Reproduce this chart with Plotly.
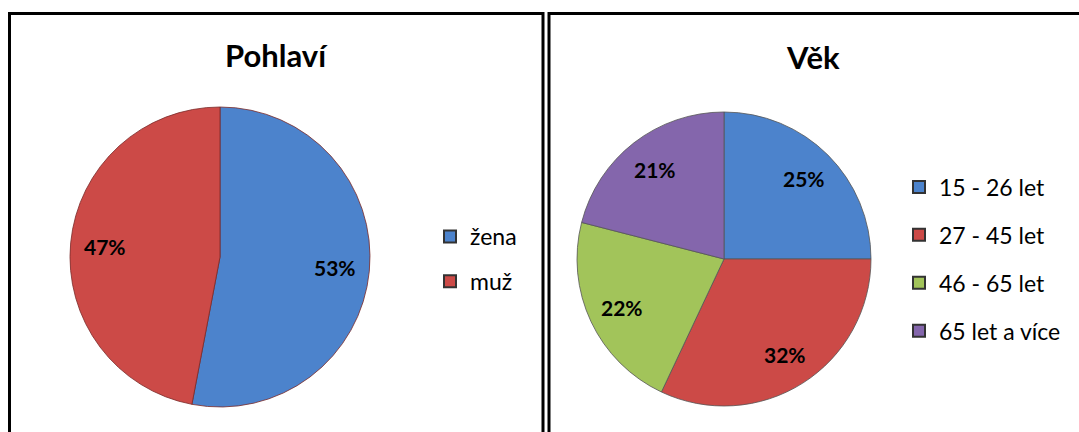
import math
import plotly.graph_objects as go

W, H = 1079, 432

sex_labels = ["žena", "muž"]
sex_values = [53, 47]
sex_colors = ["#4C83CC", "#CC4A47"]

age_labels = ["15 - 26 let", "27 - 45 let", "46 - 65 let", "65 let a více"]
age_values = [25, 32, 22, 21]
age_colors = ["#4C83CC", "#CC4A47", "#A2C45A", "#8466AC"]

FONT = "Lato, Open Sans, sans-serif"

def px(x):
    return x / W

def py(y):
    return 1 - y / H

# pie geometry (pixels)
PIE1 = dict(cx=220, cy=257, r=150)
PIE2 = dict(cx=724, cy=259, r=147)

fig = go.Figure()

def add_pie(labels, values, colors, g, edge):
    fig.add_trace(go.Pie(
        labels=labels, values=values, sort=False, direction="clockwise",
        rotation=0, marker=dict(colors=colors, line=dict(color=edge, width=0.8)),
        textinfo="none",
        domain=dict(x=[px(g["cx"] - g["r"]), px(g["cx"] + g["r"])],
                    y=[py(g["cy"] + g["r"]), py(g["cy"] - g["r"])]),
        showlegend=False, hoverinfo="label+percent",
    ))

add_pie(sex_labels, sex_values, sex_colors, PIE1, "#7a2a28")
add_pie(age_labels, age_values, age_colors, PIE2, "#555555")

def pct_labels(values, g, k=0.77):
    total = sum(values)
    out = []
    acc = 0
    for v in values:
        mid = (acc + v / 2) / total * 2 * math.pi
        acc += v
        x = g["cx"] + k * g["r"] * math.sin(mid)
        y = g["cy"] - k * g["r"] * math.cos(mid)
        out.append(dict(text="<b>%d%%</b>" % round(v / total * 100), x=px(x), y=py(y),
                        xref="paper", yref="paper", showarrow=False,
                        font=dict(family=FONT, size=21, color="black"),
                        xanchor="center", yanchor="middle"))
    return out

# legend entries
for i, (lab, col) in enumerate(zip(sex_labels, sex_colors)):
    fig.add_trace(go.Scatter(
        x=[None], y=[None], mode="markers", name=lab,
        marker=dict(symbol="square", size=14, color=col, line=dict(color="#333", width=0.5)),
        legend="legend", legendgroup="s%d" % i, showlegend=True,
    ))
for i, (lab, col) in enumerate(zip(age_labels, age_colors)):
    fig.add_trace(go.Scatter(
        x=[None], y=[None], mode="markers", name=lab,
        marker=dict(symbol="square", size=14, color=col, line=dict(color="#333", width=0.5)),
        legend="legend2", legendgroup="a%d" % i, showlegend=True,
    ))

def legend_cfg(x, gap):
    return dict(
        x=px(x), y=py(259),
        font=dict(family=FONT, size=23, color="black"),
        bgcolor="rgba(0,0,0,0)", tracegroupgap=gap, itemsizing="constant",
        yanchor="middle", xanchor="left", orientation="v",
    )

fig.update_layout(
    width=W, height=H,
    margin=dict(l=0, r=0, t=0, b=0),
    paper_bgcolor="white", plot_bgcolor="white",
    xaxis=dict(visible=False), yaxis=dict(visible=False),
    legend=legend_cfg(430, 12),
    legend2=legend_cfg(899, 15),
    shapes=[
        dict(type="rect", xref="paper", yref="paper",
             x0=px(9.5), x1=px(543), y0=py(460), y1=py(13.5),
             line=dict(color="black", width=3), fillcolor="rgba(0,0,0,0)"),
        dict(type="rect", xref="paper", yref="paper",
             x0=px(549), x1=px(1100), y0=py(460), y1=py(13.5),
             line=dict(color="black", width=3), fillcolor="rgba(0,0,0,0)"),
    ],
    annotations=[
        dict(text="<b>Pohlaví</b>", x=px(276), y=py(55), xref="paper", yref="paper",
             showarrow=False, font=dict(family=FONT, size=31, color="black"),
             xanchor="center", yanchor="middle"),
        dict(text="<b>Věk</b>", x=px(813), y=py(57), xref="paper", yref="paper",
             showarrow=False, font=dict(family=FONT, size=31, color="black"),
             xanchor="center", yanchor="middle"),
    ] + pct_labels(sex_values, PIE1) + pct_labels(age_values, PIE2),
)

fig.write_html("out.html",
               config={"displayModeBar": False},
               post_script="document.body.style.margin='0';document.body.style.overflow='hidden';")
